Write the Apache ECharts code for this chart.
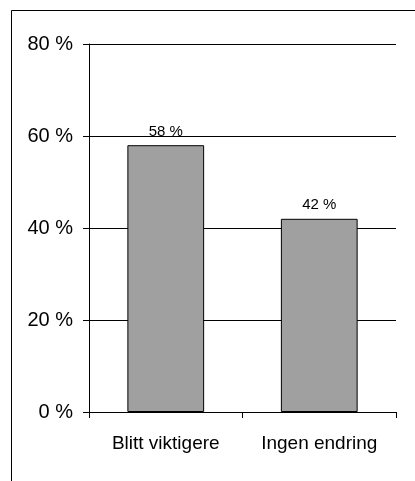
<!DOCTYPE html>
<html>
<head>
<meta charset="utf-8">
<script src="https://cdn.jsdelivr.net/npm/echarts@6/dist/echarts.min.js"></script>
<style>
  html, body { margin: 0; padding: 0; background: #fff; }
  #chart { width: 415px; height: 481px; }
</style>
</head>
<body>
<div id="chart"></div>
<script>
// Survey answers and their shares (percent)
const categories = ['Blitt viktigere', 'Ingen endring'];
const shares = [58, 42];
const yTicks = [0, 20, 40, 60, 80];

const font = '"Liberation Sans", Arial, sans-serif';
const chart = echarts.init(document.getElementById('chart'), null, { renderer: 'canvas' });

chart.setOption({
  animation: false,
  backgroundColor: '#ffffff',
  graphic: [
    // frame around the chart area (top and left edges)
    { type: 'line', shape: { x1: 11.5, y1: 10.5, x2: 415, y2: 10.5 }, style: { stroke: '#000', lineWidth: 1 } },
    { type: 'line', shape: { x1: 11.5, y1: 10.5, x2: 11.5, y2: 481 }, style: { stroke: '#000', lineWidth: 1 } }
  ],
  grid: { left: 89, right: 19, top: 44, bottom: 69 },
  xAxis: {
    type: 'category',
    data: categories,
    axisLine: { lineStyle: { color: '#000', width: 1 } },
    axisTick: { show: true, length: 6, inside: false, lineStyle: { color: '#000' } },
    axisLabel: { color: '#000', fontFamily: font, fontSize: 19, margin: 22 }
  },
  yAxis: {
    type: 'value',
    min: yTicks[0],
    max: yTicks[yTicks.length - 1],
    interval: 20,
    axisLine: { show: true, lineStyle: { color: '#000', width: 1 } },
    axisTick: { show: true, length: 6, lineStyle: { color: '#000' } },
    splitLine: { show: true, lineStyle: { color: '#000', width: 1 } },
    axisLabel: {
      color: '#000', fontFamily: font, fontSize: 20, margin: 16,
      formatter: v => v + ' %'
    }
  },
  series: [{
    type: 'bar',
    data: shares,
    barWidth: '50%',
    itemStyle: { color: '#a0a0a0', borderColor: '#000', borderWidth: 1 },
    label: {
      show: true,
      position: 'top',
      distance: 6,
      color: '#000',
      fontFamily: font,
      fontSize: 15,
      formatter: p => p.value + ' %'
    }
  }]
});
</script>
</body>
</html>
